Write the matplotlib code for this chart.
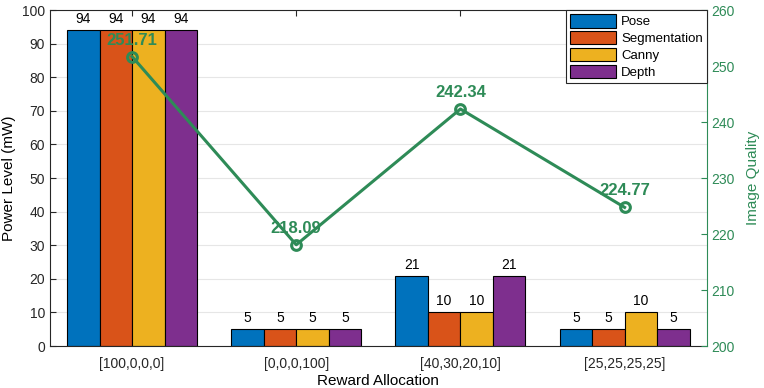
import matplotlib
matplotlib.use("Agg")
import matplotlib.pyplot as plt
import numpy as np

plt.rcParams['font.family'] = ['Liberation Sans', 'DejaVu Sans']

categories = ['[100,0,0,0]', '[0,0,0,100]', '[40,30,20,10]', '[25,25,25,25]']
series_names = ['Pose', 'Segmentation', 'Canny', 'Depth']
power = {
    'Pose': [94, 5, 21, 5],
    'Segmentation': [94, 5, 10, 5],
    'Canny': [94, 5, 10, 10],
    'Depth': [94, 5, 21, 5],
}
quality = [251.71, 218.09, 242.34, 224.77]
colors = ['#0072BD', '#D95319', '#EDB120', '#7E2F8E']
green = '#2E8B57'

fig = plt.figure(figsize=(7.64, 3.88), dpi=100)
ax = fig.add_axes([0.0654, 0.108, 0.8596, 0.866])
x = np.arange(1, len(categories) + 1)
w = 0.198
for i, name in enumerate(series_names):
    xs = x + (i - 1.5) * w
    ax.bar(xs, power[name], width=w, color=colors[i], edgecolor='black', linewidth=0.8, label=name, zorder=2)
    for xi, v in zip(xs, power[name]):
        ax.text(xi, v + 1.2, str(v), ha='center', va='bottom', fontsize=10)

ax.set_xlim(0.5, 4.5)
ax.set_ylim(0, 100)
ax.set_yticks(range(0, 101, 10))
ax.set_xticks(x)
ax.set_xticklabels(categories)
ax.tick_params(direction='in', labelsize=10, top=True, right=True, length=4, colors='#262626')
ax.tick_params(axis='x', pad=8)
ax.yaxis.grid(True, color='#e6e6e6', linewidth=0.8, zorder=0)
ax.set_axisbelow(True)
ax.set_xlabel('Reward Allocation', fontsize=11, labelpad=2)
ax.set_ylabel('Power Level (mW)', fontsize=11)
for s in ax.spines.values():
    s.set_color('#262626')
    s.set_linewidth(0.8)
ax.spines['right'].set_visible(False)

ax2 = ax.twinx()
ax2.set_ylim(200, 260)
ax2.set_yticks(range(200, 261, 10))
ax2.plot(x, quality, color=green, linewidth=2.2, marker='o', markersize=7,
         markerfacecolor='none', markeredgewidth=2.2, zorder=5)
for xi, q in zip(x, quality):
    ax2.text(xi, q + 1.6, f'{q:.2f}', ha='center', va='bottom', fontsize=12,
             fontweight='bold', color=green, zorder=6)
ax2.tick_params(axis='y', colors=green, direction='in', labelsize=10, length=4)
ax2.set_ylabel('Image Quality', color=green, fontsize=11, labelpad=8)
for k in ['left', 'top', 'bottom']:
    ax2.spines[k].set_visible(False)
ax2.spines['right'].set_color(green)
ax2.spines['right'].set_linewidth(0.8)
ax2.set_zorder(ax.get_zorder() + 1)
ax2.patch.set_visible(False)

handles, labels = ax.get_legend_handles_labels()
leg = ax2.legend(handles, labels, loc='upper right', fontsize=9.5, frameon=True,
                 fancybox=False, edgecolor='#262626', handlelength=3.5, handleheight=1.2,
                 borderaxespad=0.0, borderpad=0.3, labelspacing=0.2, handletextpad=0.4, framealpha=1)
leg.get_frame().set_linewidth(0.8)

fig.savefig('out.png', dpi=100)
